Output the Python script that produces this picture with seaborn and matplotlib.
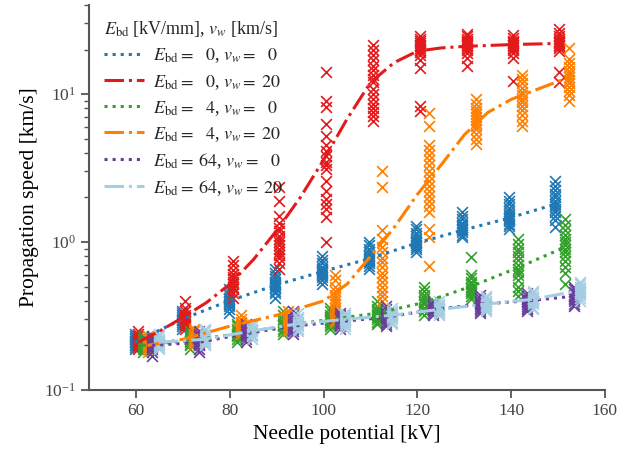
import matplotlib
matplotlib.use('Agg')
import matplotlib.pyplot as plt
import seaborn as sns
import pandas as pd

# measured speeds (km/s), one list per needle potential
kv_e0_v0 = [59.7, 69.7, 79.8, 89.7, 99.6, 109.7, 119.7, 129.6, 139.5, 149.4]
speed_e0_v0 = [
    [0.19, 0.195, 0.20, 0.205, 0.21, 0.21, 0.215, 0.22, 0.225, 0.23, 0.24],
    [0.26, 0.27, 0.28, 0.29, 0.295, 0.30, 0.31, 0.32, 0.33, 0.34],
    [0.33, 0.35, 0.37, 0.38, 0.39, 0.40, 0.41, 0.42, 0.44, 0.46, 0.48],
    [0.42, 0.45, 0.47, 0.49, 0.50, 0.51, 0.52, 0.54, 0.56, 0.59, 0.62, 0.66],
    [0.52, 0.55, 0.58, 0.60, 0.62, 0.63, 0.64, 0.66, 0.68, 0.72, 0.76, 0.80],
    [0.66, 0.69, 0.72, 0.74, 0.76, 0.78, 0.80, 0.82, 0.85, 0.90, 0.95, 1.0],
    [0.86, 0.90, 0.93, 0.96, 0.98, 1.0, 1.02, 1.05, 1.1, 1.15, 1.22, 1.28],
    [1.08, 1.12, 1.16, 1.2, 1.23, 1.26, 1.3, 1.35, 1.42, 1.5, 1.6],
    [1.22, 1.28, 1.33, 1.38, 1.42, 1.45, 1.5, 1.55, 1.62, 1.7, 1.8, 1.9, 2.0],
    [1.26, 1.4, 1.5, 1.6, 1.68, 1.75, 1.82, 1.9, 2.0, 2.1, 2.25, 2.4, 2.6],
]
fit_kv_e0_v0 = kv_e0_v0
fit_e0_v0 = [0.21, 0.30, 0.40, 0.51, 0.63, 0.77, 0.98, 1.2, 1.45, 1.8]

kv_e0_v20 = [60.4, 70.4, 80.6, 90.4, 100.5, 110.6, 120.6, 130.5, 140.3, 150.3]
speed_e0_v20 = [
    [0.19, 0.195, 0.20, 0.205, 0.21, 0.215, 0.22, 0.23, 0.24, 0.25],
    [0.26, 0.27, 0.28, 0.29, 0.30, 0.31, 0.32, 0.34, 0.36, 0.40],
    [0.42, 0.45, 0.48, 0.50, 0.52, 0.54, 0.56, 0.58, 0.61, 0.65, 0.70, 0.74],
    [0.66, 0.72, 0.78, 0.82, 0.86, 0.9, 0.95, 1.0, 1.05, 1.1, 1.18, 1.25, 1.35, 1.5, 1.9, 2.35],
    [1.0, 1.48, 1.67, 1.8, 1.95, 2.2, 2.6, 3.1, 3.3, 3.5, 3.8, 4.1, 4.5, 5.2, 6.3, 8.2, 9.0, 14.0],
    [6.6, 7.1, 7.6, 8.0, 8.6, 9.3, 10.0, 10.9, 12.0, 12.7, 13.5, 14.5, 15.5, 17.0, 18.5, 20.0, 21.5],
    [7.7, 8.3, 15.0, 17.0, 18.5, 19.3, 20.0, 20.5, 21.0, 21.5, 22.0, 22.8, 23.5, 24.5],
    [15.5, 17.5, 19.0, 20.0, 20.5, 21.0, 21.5, 22.0, 22.5, 23.0, 23.5, 24.5, 25.5],
    [12.3, 17.5, 19.0, 20.0, 20.5, 21.0, 21.5, 22.0, 22.5, 23.0, 24.0, 25.0],
    [12.1, 14.0, 19.5, 20.5, 21.0, 21.5, 22.0, 22.5, 23.0, 23.5, 24.5, 26.0, 27.5],
]
fit_kv_e0_v20 = [60.4, 65, 70, 75, 80, 85, 90, 95, 100, 105, 110, 115, 120, 125, 130, 135, 140, 145, 150.3]
fit_e0_v20 = [0.21, 0.25, 0.31, 0.39, 0.52, 0.76, 1.2, 2.0, 3.6, 6.8, 12.0, 16.3, 19.5, 20.5, 21.0, 21.3, 21.6, 21.8, 22.0]

kv_e4_v0 = [61.4, 71.4, 81.4, 91.4, 101.4, 111.4, 121.4, 131.4, 141.4, 151.4]
speed_e4_v0 = [
    [0.18, 0.19, 0.195, 0.20, 0.205, 0.21, 0.22, 0.23],
    [0.19, 0.20, 0.205, 0.21, 0.215, 0.22, 0.23, 0.24, 0.25],
    [0.21, 0.22, 0.23, 0.235, 0.24, 0.25, 0.26, 0.27, 0.28],
    [0.24, 0.25, 0.26, 0.27, 0.275, 0.28, 0.29, 0.30, 0.32, 0.34],
    [0.26, 0.27, 0.28, 0.29, 0.295, 0.30, 0.31, 0.32, 0.34, 0.36],
    [0.28, 0.29, 0.30, 0.31, 0.32, 0.33, 0.34, 0.35, 0.37, 0.40],
    [0.32, 0.34, 0.35, 0.36, 0.38, 0.39, 0.40, 0.42, 0.44, 0.47, 0.50],
    [0.41, 0.43, 0.45, 0.47, 0.48, 0.50, 0.52, 0.54, 0.57, 0.60, 0.79],
    [0.43, 0.47, 0.5, 0.55, 0.6, 0.63, 0.66, 0.7, 0.75, 0.8, 0.85, 0.9, 0.97, 1.05],
    [0.52, 0.62, 0.68, 0.74, 0.8, 0.85, 0.9, 0.95, 1.0, 1.05, 1.12, 1.2, 1.3, 1.42],
]
fit_kv_e4_v0 = kv_e4_v0
fit_e4_v0 = [0.20, 0.215, 0.24, 0.27, 0.30, 0.33, 0.39, 0.5, 0.67, 0.92]

kv_e4_v20 = [62.4, 72.4, 82.4, 92.4, 102.4, 112.4, 122.4, 132.4, 142.4, 152.4]
speed_e4_v20 = [
    [0.18, 0.19, 0.195, 0.20, 0.205, 0.21, 0.22, 0.23],
    [0.20, 0.21, 0.215, 0.22, 0.225, 0.23, 0.24, 0.25, 0.26],
    [0.24, 0.25, 0.26, 0.27, 0.28, 0.285, 0.29, 0.30, 0.32],
    [0.25, 0.26, 0.27, 0.28, 0.29, 0.30, 0.31, 0.32, 0.34],
    [0.29, 0.30, 0.32, 0.34, 0.36, 0.38, 0.40, 0.42, 0.44, 0.47, 0.50, 0.55, 0.60],
    [0.40, 0.43, 0.46, 0.5, 0.54, 0.58, 0.62, 0.68, 0.73, 0.78, 0.85, 0.92, 1.05, 1.2, 2.35, 3.0],
    [0.69, 1.08, 1.22, 1.6, 1.75, 1.9, 2.05, 2.2, 2.4, 2.6, 2.8, 3.0, 3.3, 3.6, 3.9, 4.2, 4.5, 6.1, 7.4],
    [4.6, 5.0, 5.4, 5.8, 6.1, 6.4, 6.7, 7.0, 7.3, 7.7, 8.1, 8.6, 9.2],
    [6.1, 6.6, 7.2, 7.8, 8.3, 8.8, 9.3, 9.8, 10.3, 11.0, 11.8, 12.6, 13.5],
    [9.0, 9.8, 10.5, 11.2, 11.8, 12.4, 13.0, 13.7, 14.4, 15.2, 16.2, 17.3, 20.5],
]
fit_kv_e4_v20 = [62.4, 70, 80, 90, 100, 105, 110, 115, 120, 125, 130, 135, 140, 145, 152.4]
fit_e4_v20 = [0.20, 0.22, 0.27, 0.32, 0.40, 0.52, 0.8, 1.25, 2.1, 3.3, 5.3, 7.5, 9.2, 10.6, 13.0]

kv_e64_v0 = [63.4, 73.4, 83.4, 93.4, 103.4, 113.4, 123.4, 133.4, 143.4, 153.4]
speed_e64_v0 = [
    [0.17, 0.18, 0.19, 0.195, 0.20, 0.205, 0.21, 0.22, 0.23],
    [0.18, 0.19, 0.20, 0.205, 0.21, 0.215, 0.22, 0.23, 0.24, 0.25],
    [0.21, 0.22, 0.23, 0.235, 0.24, 0.245, 0.25, 0.26, 0.27, 0.28],
    [0.24, 0.25, 0.26, 0.265, 0.27, 0.28, 0.29, 0.30, 0.32, 0.34],
    [0.26, 0.27, 0.28, 0.285, 0.29, 0.30, 0.31, 0.32, 0.33],
    [0.27, 0.28, 0.29, 0.30, 0.305, 0.31, 0.32, 0.33, 0.35, 0.37],
    [0.32, 0.33, 0.34, 0.345, 0.35, 0.36, 0.37, 0.38, 0.40],
    [0.33, 0.34, 0.35, 0.36, 0.37, 0.38, 0.39, 0.40, 0.42, 0.44],
    [0.34, 0.35, 0.36, 0.37, 0.38, 0.39, 0.40, 0.41, 0.43, 0.45],
    [0.37, 0.38, 0.40, 0.41, 0.42, 0.43, 0.44, 0.46, 0.48, 0.50],
]
fit_kv_e64_v0 = kv_e64_v0
fit_e64_v0 = [0.20, 0.21, 0.24, 0.27, 0.29, 0.31, 0.35, 0.38, 0.40, 0.43]

kv_e64_v20 = [64.8, 74.6, 84.6, 94.6, 104.6, 114.6, 124.6, 134.6, 144.6, 154.6]
speed_e64_v20 = [
    [0.19, 0.195, 0.20, 0.205, 0.21, 0.215, 0.22, 0.23, 0.24],
    [0.20, 0.205, 0.21, 0.215, 0.22, 0.225, 0.23, 0.24, 0.25, 0.26],
    [0.22, 0.23, 0.235, 0.24, 0.25, 0.255, 0.26, 0.27, 0.28],
    [0.25, 0.26, 0.27, 0.275, 0.28, 0.29, 0.30, 0.31, 0.33],
    [0.26, 0.27, 0.28, 0.29, 0.295, 0.30, 0.31, 0.32, 0.33],
    [0.28, 0.29, 0.30, 0.31, 0.315, 0.32, 0.33, 0.34, 0.36],
    [0.32, 0.33, 0.34, 0.35, 0.355, 0.36, 0.37, 0.38, 0.40],
    [0.34, 0.35, 0.36, 0.37, 0.375, 0.38, 0.39, 0.40, 0.42, 0.43],
    [0.35, 0.36, 0.38, 0.39, 0.40, 0.41, 0.42, 0.43, 0.45, 0.47],
    [0.40, 0.42, 0.44, 0.45, 0.46, 0.47, 0.48, 0.50, 0.52, 0.54],
]
fit_kv_e64_v20 = kv_e64_v20
fit_e64_v20 = [0.21, 0.22, 0.25, 0.28, 0.30, 0.32, 0.35, 0.38, 0.41, 0.47]

e_bd = [0, 0, 4, 4, 64, 64]
v_w = [0, 20, 0, 20, 0, 20]
colors = ['#1f78b4', '#e31a1c', '#33a02c', '#ff7f00', '#6a3d9a', '#a6cee3']

series = [
    (kv_e0_v0, speed_e0_v0, fit_kv_e0_v0, fit_e0_v0),
    (kv_e0_v20, speed_e0_v20, fit_kv_e0_v20, fit_e0_v20),
    (kv_e4_v0, speed_e4_v0, fit_kv_e4_v0, fit_e4_v0),
    (kv_e4_v20, speed_e4_v20, fit_kv_e4_v20, fit_e4_v20),
    (kv_e64_v0, speed_e64_v0, fit_kv_e64_v0, fit_e64_v0),
    (kv_e64_v20, speed_e64_v20, fit_kv_e64_v20, fit_e64_v20),
]

sns.set_theme(style='ticks')
plt.rcParams['font.family'] = ['Liberation Serif', 'DejaVu Serif']
plt.rcParams['mathtext.fontset'] = 'stix'

fig = plt.figure(figsize=(6.21, 4.55), dpi=100)
ax = fig.add_axes([0.144, 0.143, 0.830, 0.846])


def num(n):
    # pad single digits so the numbers line up in the legend
    return r'\;\enspace' + str(n) if n < 10 else r'\;' + str(n)


handles = []
labels = []
for (kv, speeds, fkv, fit), e, v, c in zip(series, e_bd, v_w, colors):
    rows = [(k, s) for k, group in zip(kv, speeds) for s in group]
    df = pd.DataFrame(rows, columns=['kv', 'speed'])
    sns.scatterplot(data=df, x='kv', y='speed', color=c, marker='x',
                    s=60, linewidth=1.2, ax=ax, zorder=2)
    ls = ':' if v == 0 else '-.'
    sns.lineplot(x=fkv, y=fit, color=c, linestyle=ls, linewidth=2.2,
                 sort=False, estimator=None, ax=ax, zorder=3)
    handles.append(ax.lines[-1])
    labels.append(r'$E_\mathrm{bd} =' + num(e) + r'$, $v_w =' + num(v) + '$')

ax.set_yscale('log')
ax.set_xlim(50, 160)
ax.set_ylim(0.1, 40)
ax.set_xticks([60, 80, 100, 120, 140, 160])
ax.set_xlabel('Needle potential [kV]', fontsize=15.5, color='black')
ax.set_ylabel('Propagation speed [km/s]', fontsize=15.5, color='black')
ax.tick_params(axis='both', which='major', labelsize=12.5, labelcolor='#444444',
               color='#555555', length=6, width=1.3, direction='out')
ax.tick_params(axis='both', which='minor', color='#555555', length=3.5, width=1.0)
for side in ['left', 'bottom']:
    ax.spines[side].set_color('#555555')
    ax.spines[side].set_linewidth(1.5)
sns.despine(ax=ax)

leg = ax.legend(handles, labels, title=r'$E_\mathrm{bd}$ [kV/mm], $v_w$ [km/s]',
                loc='upper left', frameon=False, alignment='left', fontsize=13,
                title_fontsize=13, handlelength=2.2, labelspacing=0.4,
                handletextpad=0.5, borderaxespad=0.4)

fig.savefig('out.png', dpi=100)
